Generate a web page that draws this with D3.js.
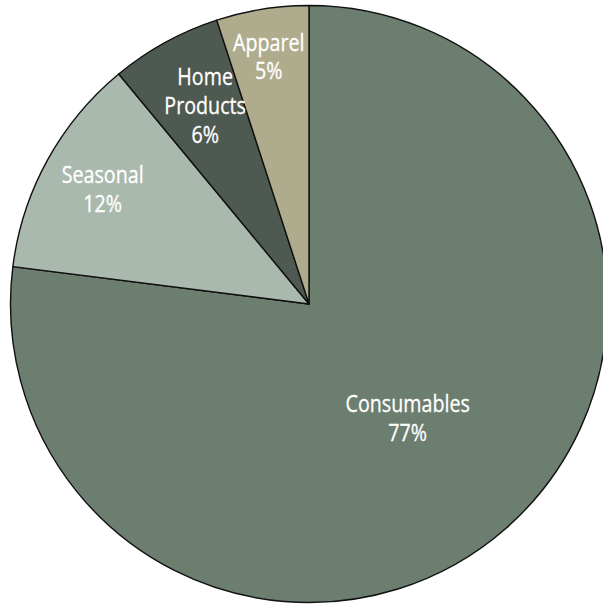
<!DOCTYPE html>
<html>
<head>
<meta charset="utf-8">
<script src="https://cdn.jsdelivr.net/npm/d3@7"></script>
<style>
  html, body { margin: 0; padding: 0; background: #fff; }
  svg { display: block; }
</style>
</head>
<body>
<svg id="chart" width="603" height="604"></svg>
<script>
// Sales mix by merchandise category (percent of net sales)
const categories = ["Consumables", "Seasonal", "Home Products", "Apparel"];
const shares = [77, 12, 6, 5];
const labelLines = [["Consumables"], ["Seasonal"], ["Home", "Products"], ["Apparel"]];

// Styling
const fills = ["#6b7e70", "#a9b9ae", "#4e5a51", "#aeac8d"];
const labelRadius = [0.51, 0.785, 0.75, 0.84]; // fraction of outer radius
const labelNudge = [[-2, 0], [-1, -2], [4, -2], [-1, 0]]; // small pixel tweaks
const cx = 309, cy = 304, R = 298.5;
const fontSize = 24, lineHeight = 29;

const svg = d3.select("#chart");
const g = svg.append("g").attr("transform", `translate(${cx},${cy})`);

const data = categories.map((c, i) => ({ name: c, value: shares[i], i }));
const pie = d3.pie().value(d => d.value).sort(null);
const arc = d3.arc().innerRadius(0).outerRadius(R);
const arcs = pie(data);

g.selectAll("path.slice")
  .data(arcs)
  .join("path")
  .attr("class", "slice")
  .attr("d", arc)
  .attr("fill", d => fills[d.data.i])
  .attr("stroke", "#111")
  .attr("stroke-width", 1.4)
  .attr("stroke-linejoin", "round");

const labels = g.selectAll("text.lbl")
  .data(arcs)
  .join("text")
  .attr("class", "lbl")
  .attr("text-anchor", "middle")
  .attr("fill", "#fff")
  .style("font-family", "'Open Sans', sans-serif")
  .style("font-size", fontSize + "px")
  .style("stroke", "#fff")
  .style("stroke-width", 0.3)
  .attr("transform", d => {
    const a = (d.startAngle + d.endAngle) / 2;
    const r = R * labelRadius[d.data.i];
    const [nx, ny] = labelNudge[d.data.i];
    const x = Math.sin(a) * r + nx, y = -Math.cos(a) * r + ny;
    return `translate(${x},${y}) scale(0.82,1)`;
  });

labels.each(function(d) {
  const lines = labelLines[d.data.i].concat([d.data.value + "%"]);
  const t = d3.select(this);
  const y0 = -((lines.length - 1) * lineHeight) / 2 + fontSize * 0.36;
  lines.forEach((s, k) => {
    t.append("tspan").attr("x", 0).attr("y", y0 + k * lineHeight).text(s);
  });
});
</script>
</body>
</html>
